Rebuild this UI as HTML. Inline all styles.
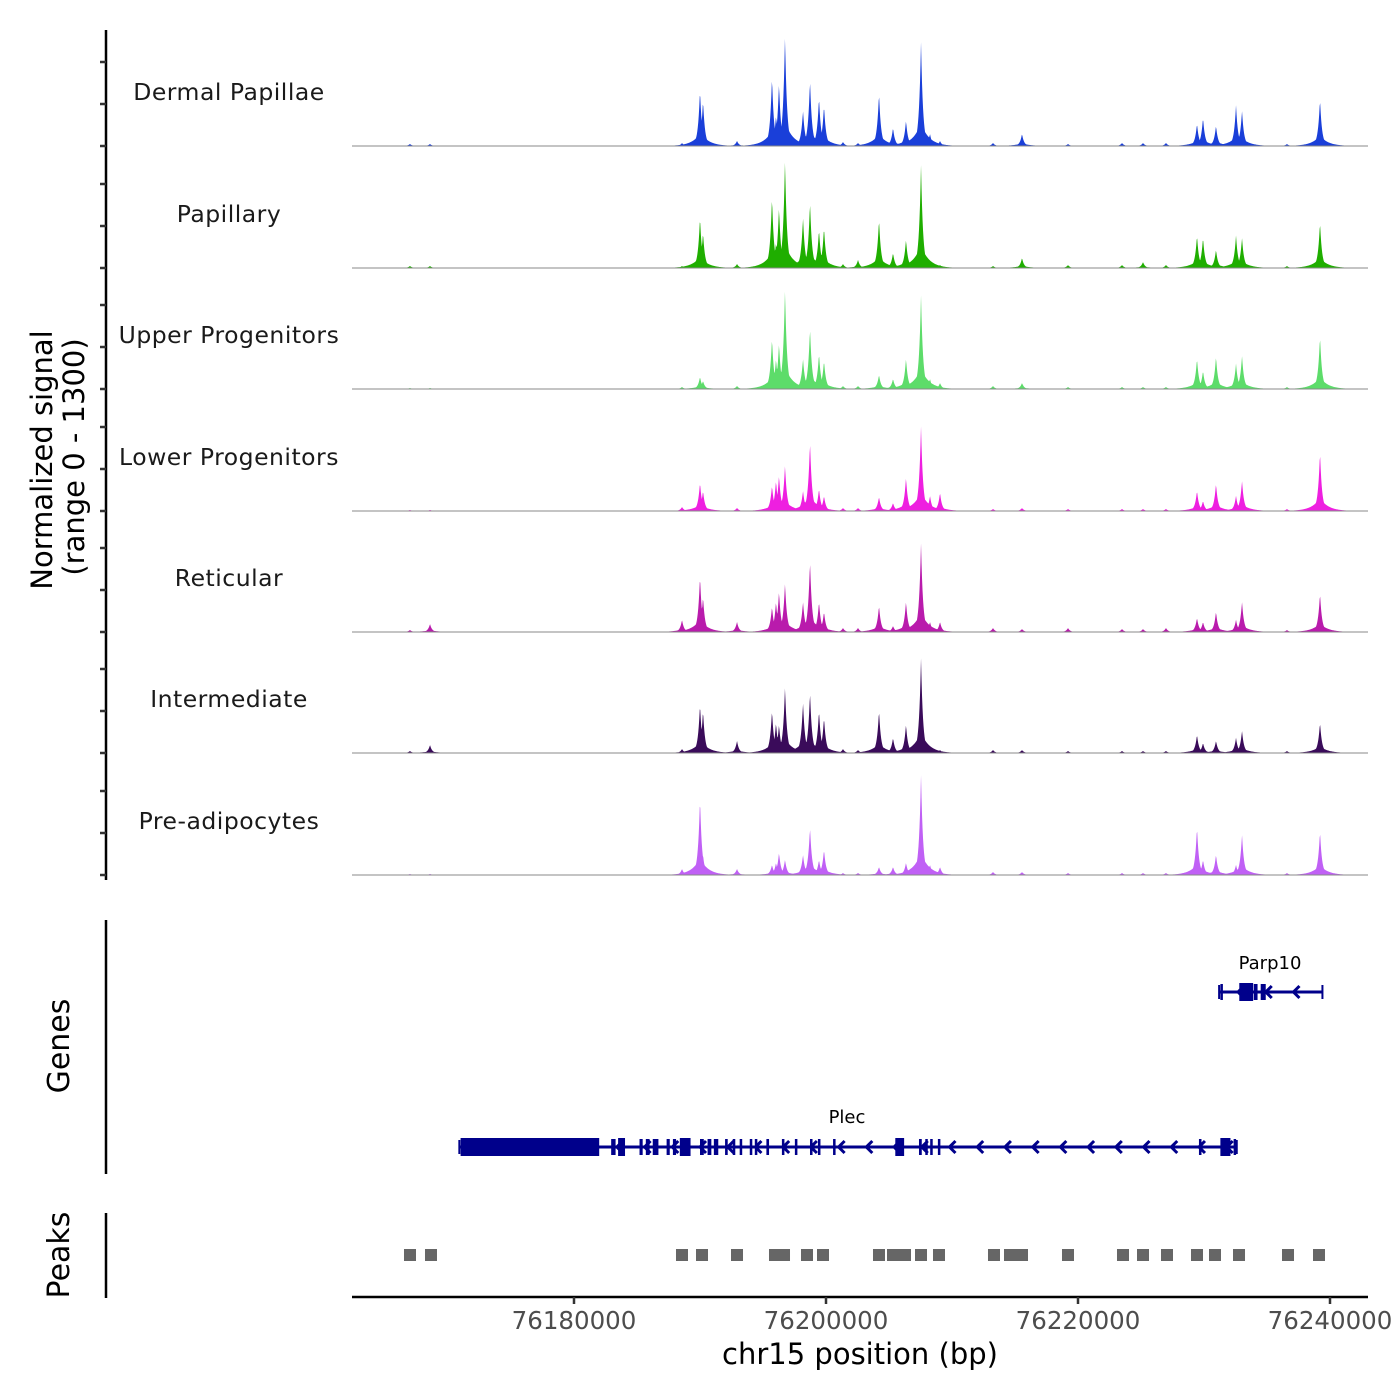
<!DOCTYPE html>
<html><head><meta charset="utf-8">
<style>
html,body{margin:0;padding:0;background:#fff;}
svg{display:block;font-family:"DejaVu Sans","Liberation Sans",sans-serif;}
</style></head>
<body>
<svg id="chart" width="1400" height="1400" viewBox="0 0 1400 1400" xmlns="http://www.w3.org/2000/svg">
<g id="tracks"></g>
<g id="axes"></g>
<g id="genes"></g>
<g id="peaks"></g>
<text transform="translate(52,460) rotate(-90)" text-anchor="middle" font-size="29" fill="#000">Normalized signal</text>
<text transform="translate(84,457) rotate(-90)" text-anchor="middle" font-size="29" fill="#000">(range 0 - 1300)</text>
<text transform="translate(69,1046) rotate(-90)" text-anchor="middle" font-size="30" fill="#000">Genes</text>
<text transform="translate(69,1255) rotate(-90)" text-anchor="middle" font-size="30" fill="#000">Peaks</text>
<text x="860" y="1364" text-anchor="middle" font-size="29" fill="#000">chr15 position (bp)</text>
<text x="1270" y="969" text-anchor="middle" font-size="18" fill="#000">Parp10</text>
<text x="847" y="1123" text-anchor="middle" font-size="18" fill="#000">Plec</text>
</svg>
<script>
const trackNames = ["Dermal Papillae","Papillary","Upper Progenitors","Lower Progenitors","Reticular","Intermediate","Pre-adipocytes"];
const trackColors = ["#1a3fd9","#1fae00","#5ddc6a","#ee1fe0","#b91bac","#3a0b5a","#c060f5"];
const peakPositions = [76166984,76168571,76188571,76190000,76190238,76192937,76195714,76196032,76196270,76196746,76198175,76198730,76199444,76199841,76201349,76202540,76204206,76205318,76206349,76207540,76208254,76209048,76213254,76215556,76219206,76223492,76225159,76226984,76229444,76229921,76230952,76232540,76233016,76236587,76239206];
const sigDP   = [22,22,33,605,495,55,748,330,682,1188,385,715,528,440,44,33,572,198,275,1122,132,55,33,132,22,33,33,33,242,308,220,440,385,22,506];
const sigPap  = [22,22,22,550,385,44,770,275,660,1166,550,715,418,440,44,88,528,165,308,1111,66,33,22,110,33,33,66,33,352,330,198,352,330,22,495];
const sigUp   = [11,11,22,132,88,33,550,330,495,1078,330,660,385,308,33,33,154,110,330,1012,110,66,33,66,22,22,22,22,330,198,352,275,363,22,572];
const sigLow  = [11,11,44,308,220,33,275,330,385,495,220,748,242,165,33,33,154,88,363,913,165,198,22,33,22,22,22,22,220,110,297,165,330,22,638];
const sigRet  = [22,88,132,605,385,110,275,330,440,528,330,770,330,220,44,44,286,66,330,957,110,110,44,33,44,33,33,44,154,110,220,132,330,22,418];
const sigInt  = [22,88,44,528,462,132,462,330,308,715,550,660,462,385,44,33,462,165,308,1023,66,33,33,33,22,22,22,22,198,110,132,165,242,22,330];
const sigPre  = [11,11,66,825,220,66,110,132,242,165,220,517,165,275,22,22,88,88,132,1078,110,88,33,33,22,22,22,22,517,165,220,110,440,22,473];
const trackSignals = [sigDP,sigPap,sigUp,sigLow,sigRet,sigInt,sigPre];
const xTicks = [76180000,76200000,76220000,76240000];
const peakRegions = [76166984,76168650,76188571,76190159,76192937,76195952,76196667,76198492,76199762,76204206,76205317,76206270,76207540,76208968,76213333,76214603,76215556,76219206,76223571,76225159,76227063,76229444,76230873,76232778,76236667,76239127];
const plecExons = [[76171000,76182000],[76182950,76183300],[76183500,76184050],[76185200,76185450],[76185700,76186000],[76186250,76186700],[76187350,76187600],[76187850,76188100],[76188400,76189250],[76190000,76190300],[76190600,76190900],[76191100,76191450],[76191990,76192200],[76192600,76192800],[76193150,76193350],[76193950,76194150],[76194350,76194550],[76195270,76195480],[76196500,76196700],[76197530,76197730],[76198730,76198930],[76199360,76199560],[76200560,76200760],[76205500,76206200],[76207380,76207600],[76207880,76208070],[76208270,76208470],[76208880,76209070],[76229600,76229800],[76231300,76232100],[76232350,76232500]];
const plecRange = [76170900,76232600];
const parp10Exons = [[76231300,76231500],[76232800,76233900],[76233950,76234250],[76234500,76234900]];
const parp10Range = [76231200,76239400];

const NS="http://www.w3.org/2000/svg";
const X0=76162381, PXPB=0.0126, PLOTL=352, PLOTR=1368;
function xs(bp){return PLOTL+(bp-X0)*PXPB;}
const baselines=[146,268,389,511,632,753,875];
const TRACKH=121, YMAX=1300;
function ys(v,i){return baselines[i]-v/YMAX*TRACKH;}
function mk(tag,attrs,parent){const e=document.createElementNS(NS,tag);for(const k in attrs)e.setAttribute(k,attrs[k]);parent.appendChild(e);return e;}

const tracks=document.getElementById('tracks');
trackSignals.forEach((sig,i)=>{
  let d='M'+PLOTL+','+baselines[i];
  for(let bp=X0;bp<=X0+(PLOTR-PLOTL)/PXPB;bp+=40){
    let v=0;
    for(let k=0;k<peakPositions.length;k++){
      const dd=(bp-peakPositions[k])/120;
      const s=sig[k]*Math.exp(-Math.abs(dd)*0.75);
      const sh=sig[k]*0.22*Math.exp(-Math.abs((bp-peakPositions[k])/650));
      v=Math.max(v,s,sh);
    }
    d+='L'+xs(bp).toFixed(2)+','+ys(v,i).toFixed(2);
  }
  d+='L'+PLOTR+','+baselines[i]+'Z';
  const p=mk('path',{d:d,fill:trackColors[i]},tracks);
  
  
  const bl=mk('line',{x1:PLOTL,x2:PLOTR,y1:baselines[i],y2:baselines[i],stroke:'#888','stroke-width':1},tracks);
  
  
  const t=mk('text',{x:229,y:baselines[i]-46,'text-anchor':'middle','font-size':23.5,fill:'#1a1a1a','letter-spacing':'0.5'},tracks);
  t.textContent=trackNames[i];
  
  
});

const axes=document.getElementById('axes');
mk('line',{x1:106,x2:106,y1:30,y2:880,stroke:'#000','stroke-width':2.5},axes);
baselines.forEach(b=>{[0,42,84].forEach(o=>{
  const tk=mk('line',{x1:100,x2:106,y1:b-o,y2:b-o,stroke:'#333','stroke-width':2.5},axes);
  
  
});});
mk('line',{x1:106,x2:106,y1:920,y2:1174,stroke:'#000','stroke-width':2.5},axes);
mk('line',{x1:106,x2:106,y1:1213,y2:1298,stroke:'#000','stroke-width':2.5},axes);
mk('line',{x1:PLOTL,x2:PLOTR,y1:1297,y2:1297,stroke:'#000','stroke-width':2.5},axes);
xTicks.forEach(v=>{
  const tk=mk('line',{x1:xs(v),x2:xs(v),y1:1297,y2:1304,stroke:'#333','stroke-width':2.5},axes);
  
  
  const t=mk('text',{x:xs(v),y:1329,'text-anchor':'middle','font-size':24.5,fill:'#4d4d4d'},axes);
  t.textContent=String(v);
  
  
});

const genes=document.getElementById('genes');
const GC='#00008b';
function drawGene(range,exons,y,name){
  const g=mk('g',{},genes);
  
  
  mk('line',{x1:xs(range[0]),x2:xs(range[1]),y1:y,y2:y,stroke:GC,'stroke-width':3},g);
  const step=2200;
  for(let bp=range[0]+1500;bp<range[1]-500;bp+=step){
    const x=xs(bp);
    mk('polyline',{points:(x+6)+','+(y-6)+' '+x+','+y+' '+(x+6)+','+(y+6),fill:'none',stroke:GC,'stroke-width':3},g);
  }
  exons.forEach(e=>{
    const w=Math.max(2.5,xs(e[1])-xs(e[0]));
    const tall=(e[1]-e[0])>500;
    mk('rect',{x:xs(e[0]),y:y-(tall?9:8),width:w,height:tall?18:16,fill:GC},g);
  });
  mk('line',{x1:xs(range[0]),x2:xs(range[0]),y1:y-7,y2:y+7,stroke:GC,'stroke-width':2},g);
  mk('line',{x1:xs(range[1]),x2:xs(range[1]),y1:y-7,y2:y+7,stroke:GC,'stroke-width':2},g);
}
drawGene(plecRange,plecExons,1147,'plec');
drawGene(parp10Range,parp10Exons,992,'parp10');

const peaks=document.getElementById('peaks');
peakRegions.forEach(bp=>{
  const r=mk('rect',{x:xs(bp)-6,y:1249,width:12,height:12,fill:'#666'},peaks);
  
  
});
</script>
</body></html>
